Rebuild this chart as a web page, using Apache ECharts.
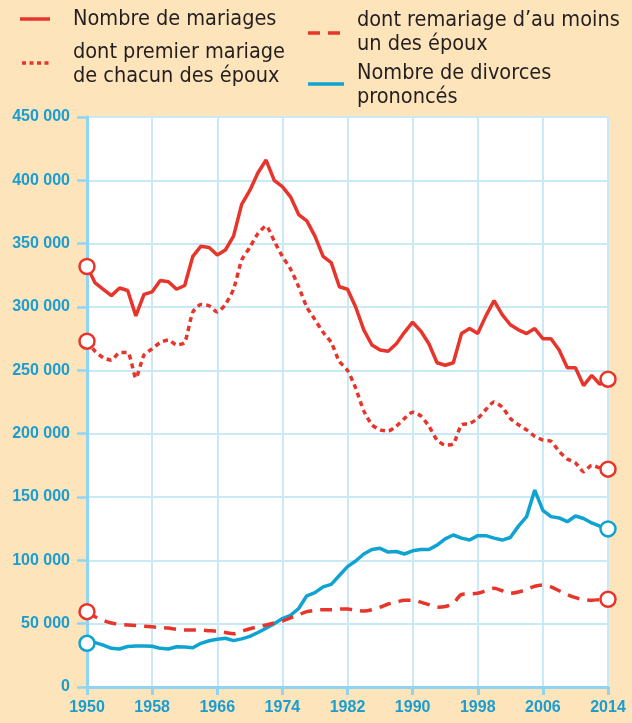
<!DOCTYPE html>
<html><head><meta charset="utf-8">
<script src="https://cdn.jsdelivr.net/npm/echarts@6/dist/echarts.min.js"></script>
<style>html,body{margin:0;padding:0;background:#fde4bb;}#c{width:632px;height:723px;}</style>
</head><body><div id="c"></div>
<script>
const years = [];
for (let y = 1950; y <= 2014; y++) years.push(String(y));

const mariages = [332,319,314,309,315,313,293,310,312,321,320,314,317,340,348,347,341,345,356,381,392,406,416,400,395,387,373,368,356,340,335,316,314,300,282,270,266,265,271,280,288,281,271,256,254,256,279,283,279,293,305,294,286,282,279,283,275,275,266,252,252,238,246,239,243];
const premiers = [273,265,260,258,264,264,244,262,267,272,274,270,272,296,302,301,296,302,314,337,347,358,364,352,340,330,316,300,290,280,272,257,250,236,218,207,203,202,206,212,217,214,206,195,191,192,207,208,212,219,225,221,212,207,203,198,195,194,186,180,177,170,175,173,172];
const remariages = [59.5,55.5,52.5,50.5,49.5,49,48.5,48,47.5,47,46.5,45.5,45,45,45,44.5,44,43,42,44,46,47.5,49,50.5,52,54.5,57,59.5,60.5,61,61,61.5,61.5,60.5,60,61,63,65.5,67,68.5,68.5,67,65,63,63.5,66,73,73.5,74,76,78,76,74,75,77,79.5,80.5,79,76,73,70.5,69,68.5,69,69.3];
const divorces = [34.5,35,33,30.5,30,32,32.4,32.4,32.2,30.5,30,31.8,31.5,31,34.5,36.5,37.7,38.5,36.6,38,40,43,46.4,50,54,56.5,62,72,74.5,79,81,88,95,99.5,105,108.5,109.5,106.5,107,105,107.5,108.5,108.5,112,117,120,117.5,116,119.5,119.5,117.5,116,118,127,134.5,155.5,139.5,134.5,133.5,130.5,135,133,129.5,127,124.8];

const legendNames = ['Nombre de mariages', 'dont premier mariage\nde chacun des époux', 'dont remariage d\u2019au moins\nun des époux', 'Nombre de divorces\nprononcés'];

const RED = '#e8352b', BLUE = '#0fa3d2', LABEL = '#1a9dd0', GRID = '#c9e9f7', AXIS = '#8fd4f3';
const NUMFONT = '"Liberation Sans","Arial",sans-serif';
const TXTFONT = '"DejaVu Sans Condensed",sans-serif';

function mk(arr, color) {
  return arr.map((v, i) => {
    const val = v * 1000;
    if (i === 0 || i === arr.length - 1) return { value: val, symbol: 'circle', symbolSize: 15, itemStyle: { color: '#fff', borderColor: color, borderWidth: 2.5 } };
    return { value: val, symbol: 'none' };
  });
}

const chart = echarts.init(document.getElementById('c'), null, { renderer: 'canvas' });
chart.setOption({
  backgroundColor: '#fde4bb',
  animation: false,
  grid: { left: 87, right: 24, top: 117, bottom: 36, show: true, backgroundColor: '#ffffff', borderWidth: 0, containLabel: false, outerBoundsMode: 'none' },
  xAxis: {
    type: 'category', data: years, boundaryGap: false,
    axisLine: { lineStyle: { color: AXIS, width: 3 } },
    axisTick: { interval: 7, length: 8, lineStyle: { color: AXIS, width: 3 } },
    axisLabel: { interval: 7, margin: 13, color: LABEL, fontFamily: NUMFONT, fontWeight: 'bold', fontSize: 16 },
    splitLine: { show: true, interval: 7, lineStyle: { color: GRID, width: 2 } }
  },
  yAxis: {
    type: 'value', min: 0, max: 450000, interval: 50000,
    axisLine: { show: true, lineStyle: { color: AXIS, width: 3 } },
    axisTick: { show: true, length: 10, lineStyle: { color: AXIS, width: 2.5 } },
    axisLabel: { margin: 17, color: LABEL, fontFamily: NUMFONT, fontWeight: 'bold', fontSize: 16,
      formatter: v => v === 0 ? '0' : (v / 1000) + ' 000' },
    splitLine: { show: true, lineStyle: { color: GRID, width: 2 } }
  },
  series: [
    { name: legendNames[3], type: 'line', data: mk(divorces, BLUE), lineStyle: { color: BLUE, width: 3.5 }, itemStyle: { color: BLUE }, z: 3 },
    { name: legendNames[2], type: 'line', data: mk(remariages, RED), smooth: 0.3, lineStyle: { color: RED, width: 3.5, type: [12, 8] }, itemStyle: { color: RED }, z: 4 },
    { name: legendNames[1], type: 'line', data: mk(premiers, RED), smooth: 0.2, lineStyle: { color: RED, width: 3.5, type: [5, 4] }, itemStyle: { color: RED }, z: 4 },
    { name: legendNames[0], type: 'line', data: mk(mariages, RED), lineStyle: { color: RED, width: 3.5 }, itemStyle: { color: RED }, z: 5 }
  ],
  graphic: [
    { type: 'line', shape: { x1: 20, y1: 19, x2: 50, y2: 19 }, style: { stroke: RED, lineWidth: 3.5 } },
    { type: 'text', left: 73, top: 8, style: { text: legendNames[0], font: '21.5px ' + TXTFONT, fill: '#231f20' } },
    { type: 'line', shape: { x1: 22, y1: 63, x2: 52, y2: 63 }, style: { stroke: RED, lineWidth: 3.5, lineDash: [4, 3.5] } },
    { type: 'text', left: 73, top: 40, style: { text: legendNames[1], font: '21.5px ' + TXTFONT, fill: '#231f20', lineHeight: 24 } },
    { type: 'line', shape: { x1: 308, y1: 33, x2: 344, y2: 33 }, style: { stroke: RED, lineWidth: 3.5, lineDash: [12, 8] } },
    { type: 'text', left: 357, top: 8, style: { text: legendNames[2], font: '21.5px ' + TXTFONT, fill: '#231f20', lineHeight: 24 } },
    { type: 'line', shape: { x1: 308, y1: 84, x2: 344, y2: 84 }, style: { stroke: BLUE, lineWidth: 3.5 } },
    { type: 'text', left: 357, top: 61, style: { text: legendNames[3], font: '21.5px ' + TXTFONT, fill: '#231f20', lineHeight: 24 } }
  ]
});
</script></body></html>
